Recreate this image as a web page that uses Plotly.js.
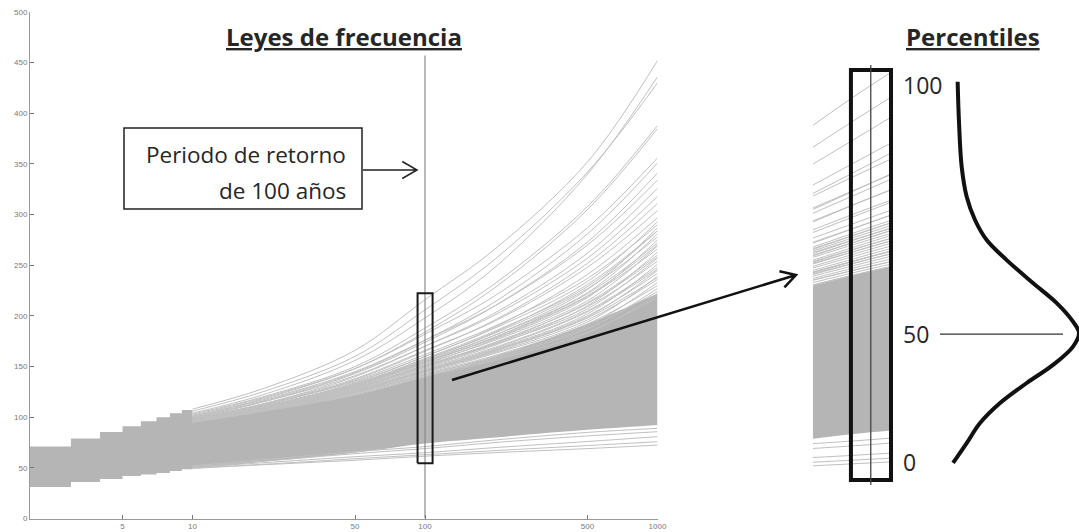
<!DOCTYPE html>
<html><head><meta charset="utf-8">
<script src="https://cdn.plot.ly/plotly-3.0.1.min.js"></script>
<style>html,body{margin:0;padding:0;background:#fff;}#chart{width:1079px;height:532px;}</style>
</head><body><div id="chart"></div>
<script>
// ---------------- data ----------------
// stepped start of the family of curves (return periods 2..11 years)
const stepPeriods = [2, 3, 4, 5, 6, 7, 8, 9, 10, 11];
const stepLow  = [31, 36, 39, 42, 43.5, 45, 47, 48.5, 49.5, 50.5];
const stepHigh = [71, 79, 85.5, 91, 96, 100, 104, 107, 100, 100];

// smooth part (return periods in years)
const periods = [10, 20, 50, 100, 200, 500, 1000];
const bandLow  = [49.5, 56, 65, 74, 80, 87.5, 92.3];
const bandHigh = [95, 106, 122, 140, 160, 192, 222];

// individual frequency laws above the dense core
const upperCurves = [
  [108,128,166,216,266,352,452],
  [104,122,156,198,248,340,436],
  [106,125,160,206,256,342,430],
  [103,120,150,188,232,308,388],
  [101,118,148,184,228,305,385],
  [102,119,148,182,220,287,356],
  [100,116,144,176,214,281,351],
  [99,115,143,174,210,273,341],
  [101,117,145,176,210,270,334],
  [98,113,140,170,203,262,326],
  [100,115,141,170,201,257,318],
  [97,112,137,165,196,252,311],
  [99,113,138,166,195,248,304],
  [96,110,134,160,189,241,297],
  [98,112,136,162,190,237,290],
  [95,109,132,157,184,231,284],
  [97,110,133,157,183,227,278],
  [96,109,131,154,179,222,272],
  [98,111,132,155,178,219,266],
  [95,107,128,150,173,213,260],
  [97,109,129,151,173,209,254],
  [96,108,127,148,169,205,248],
  [95,107,126,146,166,200,242],
  [97,108,126,145,164,196,236],
  [96,107,124,143,161,192,230],
  [95,106,123,141,158,188,224],
  [96,106,122,140,156,184,218],
  [99,112,135,160,188,234,293],
  [96,109,131,155,181,226,287],
  [98,110,132,156,181,223,281],
  [95,108,129,152,177,218,275],
  [97,109,130,153,176,215,269],
  [96,107,127,149,171,210,263],
  [98,109,129,150,172,207,257],
  [95,106,125,146,167,202,251],
  [97,108,126,146,166,199,245],
  [96,107,125,144,163,194,239],
  [95,106,124,142,160,190,233],
  [97,107,124,142,159,187,227],
  [96,106,122,140,157,183,221],
  [98,111,133,158,185,229,284],
  [97,109,130,154,179,220,270],
  [96,108,128,151,174,212,258],
  [95,107,126,147,168,204,246],
  [96,107,125,145,165,198,238]
];
// individual frequency laws below the dense core
const lowerCurves = [
  [49.5,53,57.5,61.5,65,69,72.5],
  [50,53.5,59,63,67,72,75.8],
  [50.5,55,61,65,70,76,80.8],
  [51,56.5,64,69,75,81.5,85.7],
  [52,58,66,71,77.5,85,89]
];

const xTickVals = [5, 10, 50, 100, 500, 1000];
const xTickText = ['5', '10', '50', '100', '500', '1000'];
const yTickVals = [0, 50, 100, 150, 200, 250, 300, 350, 400, 450, 500];

const markedPeriod = 100;          // vertical line (100-year return period)
const markedLineValues = [0, 457];
const boxPeriods = [92.9, 107.8];  // zoom window
const boxValues = [54.5, 222.3];
const panelPeriods = [80.7, 107.8];
const panelLineValues = [52.5, 224.3];

// distribution of values at T = 100 (right panel)
const densityValues  = [217.5,200.6,182.7,170.4,160.9,152.7,144.5,135.1,126.9,119.3,114.7,109.1,101.6,94.2,86.0,77.8,69.6,61.5];
const densityHeights = [0.127,0.137,0.156,0.192,0.252,0.336,0.48,0.669,0.84,0.957,1.0,0.957,0.813,0.624,0.432,0.288,0.192,0.094];
const percentileLabels = ['100', '50', '0'];
const percentileValues = [216.2, 114.2, 61.9];

// ---------------- layout helpers ----------------
const W = 1079, H = 532;
const fx = px => px / W;
const fy = py => 1 - py / H;
const BAND = '#b5b5b5';
const LINE = '#c0c0c0';

// panel axes geometry (pixels)
const P2 = {x0: 813, x1: 891, yb: 480, yt: 70};
const panelXpx = t => P2.x0 + (Math.log10(t) - Math.log10(panelPeriods[0])) /
  (Math.log10(panelPeriods[1]) - Math.log10(panelPeriods[0])) * (P2.x1 - P2.x0);
const panelYpx = v => P2.yb - (v - boxValues[0]) / (boxValues[1] - boxValues[0]) * (P2.yb - P2.yt);

function arrowPath(x0, y0, x1, y1, len) {
  const dx = x1 - x0, dy = y1 - y0, L = Math.hypot(dx, dy);
  const ux = -dx / L, uy = -dy / L, c = Math.cos(Math.PI / 6), s = Math.sin(Math.PI / 6);
  const a1 = [x1 + len * (ux * c - uy * s), y1 + len * (ux * s + uy * c)];
  const a2 = [x1 + len * (ux * c + uy * s), y1 + len * (-ux * s + uy * c)];
  const p = (x, y) => fx(x).toFixed(5) + ',' + fy(y).toFixed(5);
  return 'M' + p(x0, y0) + ' L' + p(x1, y1) + ' M' + p(a1[0], a1[1]) + ' L' + p(x1, y1) + ' L' + p(a2[0], a2[1]);
}

// ---------------- traces ----------------
const traces = [];
const base = {type: 'scatter', mode: 'lines', hoverinfo: 'skip', showlegend: false};

// stepped band
traces.push(Object.assign({}, base, {x: stepPeriods, y: stepLow, line: {width: 0, shape: 'hv'}}));
traces.push(Object.assign({}, base, {x: stepPeriods, y: stepHigh, line: {width: 0, shape: 'hv'},
  fill: 'tonexty', fillcolor: BAND}));

function addFamily(xa, ya) {
  traces.push(Object.assign({}, base, {x: periods, y: bandLow, xaxis: xa, yaxis: ya,
    line: {width: 0, shape: 'spline'}}));
  traces.push(Object.assign({}, base, {x: periods, y: bandHigh, xaxis: xa, yaxis: ya,
    line: {width: 0, shape: 'spline'}, fill: 'tonexty', fillcolor: BAND}));
  upperCurves.concat(lowerCurves).forEach(c => {
    traces.push(Object.assign({}, base, {x: periods, y: c, xaxis: xa, yaxis: ya,
      line: {width: 1, color: LINE, shape: 'spline'}}));
  });
}
addFamily('x', 'y');
addFamily('x2', 'y2');

// 100-year line and zoom box on the main chart
traces.push(Object.assign({}, base, {x: [markedPeriod, markedPeriod], y: markedLineValues,
  line: {width: 1.2, color: '#8a8a8a'}}));
traces.push(Object.assign({}, base,
  {x: [boxPeriods[0], boxPeriods[1], boxPeriods[1], boxPeriods[0], boxPeriods[0]],
   y: [boxValues[0], boxValues[0], boxValues[1], boxValues[1], boxValues[0]],
   line: {width: 2, color: '#1a1a1a'}}));

// distribution curve
traces.push(Object.assign({}, base, {x: densityHeights, y: densityValues, xaxis: 'x3', yaxis: 'y2',
  line: {width: 4, color: '#111', shape: 'spline'}}));

// ---------------- layout ----------------
const tickFont = {family: 'Liberation Sans, Arial, sans-serif', size: 8, color: '#7a7a7a'};
const txt = {family: 'Open Sans, sans-serif', color: '#262626'};

const layout = {
  width: W, height: H, margin: {l: 0, r: 0, t: 0, b: 0},
  paper_bgcolor: '#fff', plot_bgcolor: 'rgba(0,0,0,0)', hovermode: false, showlegend: false,
  xaxis: {type: 'log', range: [Math.log10(2), 3], domain: [fx(30), fx(657.5)], anchor: 'y',
    showline: true, linecolor: '#9a9a9a', linewidth: 1, ticks: 'inside', ticklen: 4, tickcolor: '#777',
    tickvals: xTickVals, ticktext: xTickText, tickfont: tickFont, showgrid: false, zeroline: false},
  yaxis: {range: [0, 500], domain: [fy(518.5), fy(12)], anchor: 'x',
    showline: true, linecolor: '#9a9a9a', linewidth: 1, ticks: 'inside', ticklen: 4, tickcolor: '#777',
    tickvals: yTickVals, tickfont: tickFont, showgrid: false, zeroline: false},
  xaxis2: {type: 'log', range: [Math.log10(panelPeriods[0]), Math.log10(panelPeriods[1])],
    domain: [fx(P2.x0), fx(P2.x1)], anchor: 'y2', visible: false},
  yaxis2: {range: boxValues, domain: [fy(P2.yb), fy(P2.yt)], anchor: 'x2', visible: false},
  xaxis3: {range: [0, 1], domain: [fx(940), 1], anchor: 'y2', visible: false},
  annotations: [
    {xref: 'paper', yref: 'paper', x: fx(344), y: fy(36), xanchor: 'center', yanchor: 'middle',
     text: '<b><u>Leyes de frecuencia</u></b>', showarrow: false, font: Object.assign({size: 24}, txt)},
    {xref: 'paper', yref: 'paper', x: fx(973), y: fy(36), xanchor: 'center', yanchor: 'middle',
     text: '<b><u>Percentiles</u></b>', showarrow: false, font: Object.assign({size: 24}, txt)},
    {xref: 'paper', yref: 'paper', x: fx(348), y: fy(155), xanchor: 'right', yanchor: 'middle',
     text: 'Periodo de retorno', showarrow: false, font: Object.assign({size: 22.5}, txt)},
    {xref: 'paper', yref: 'paper', x: fx(348), y: fy(190), xanchor: 'right', yanchor: 'middle',
     text: 'de 100 años', showarrow: false, font: Object.assign({size: 22.5}, txt)}
  ].concat(percentileLabels.map((t, i) => ({
     xref: 'paper', yref: 'y2', x: fx(901), y: percentileValues[i], xanchor: 'left', yanchor: 'middle',
     text: t, showarrow: false, font: Object.assign({size: 23}, txt)}))),
  shapes: [
    {type: 'rect', xref: 'paper', yref: 'paper', x0: fx(124), x1: fx(362), y0: fy(128), y1: fy(209),
     line: {color: '#222', width: 1.5}},
    {type: 'path', xref: 'paper', yref: 'paper', path: arrowPath(363, 170, 417, 170, 17),
     line: {color: '#222', width: 1.5}},
    {type: 'path', xref: 'paper', yref: 'paper', path: arrowPath(452, 380, 796, 275, 17),
     line: {color: '#111', width: 2.5}},
    {type: 'rect', xref: 'paper', yref: 'paper',
     x0: fx(panelXpx(boxPeriods[0])), x1: fx(panelXpx(boxPeriods[1])),
     y0: fy(panelYpx(boxValues[0])), y1: fy(panelYpx(boxValues[1])),
     line: {color: '#111', width: 4}},
    {type: 'line', xref: 'paper', yref: 'paper',
     x0: fx(panelXpx(markedPeriod)), x1: fx(panelXpx(markedPeriod)),
     y0: fy(panelYpx(panelLineValues[0])), y1: fy(panelYpx(panelLineValues[1])),
     line: {color: '#444', width: 1.3}},
    {type: 'line', xref: 'x3', yref: 'y2', x0: 0, x1: 0.885, y0: percentileValues[1], y1: percentileValues[1],
     line: {color: '#333', width: 1.3}}
  ]
};

Plotly.newPlot('chart', traces, layout, {staticPlot: true, displayModeBar: false});
</script></body></html>
